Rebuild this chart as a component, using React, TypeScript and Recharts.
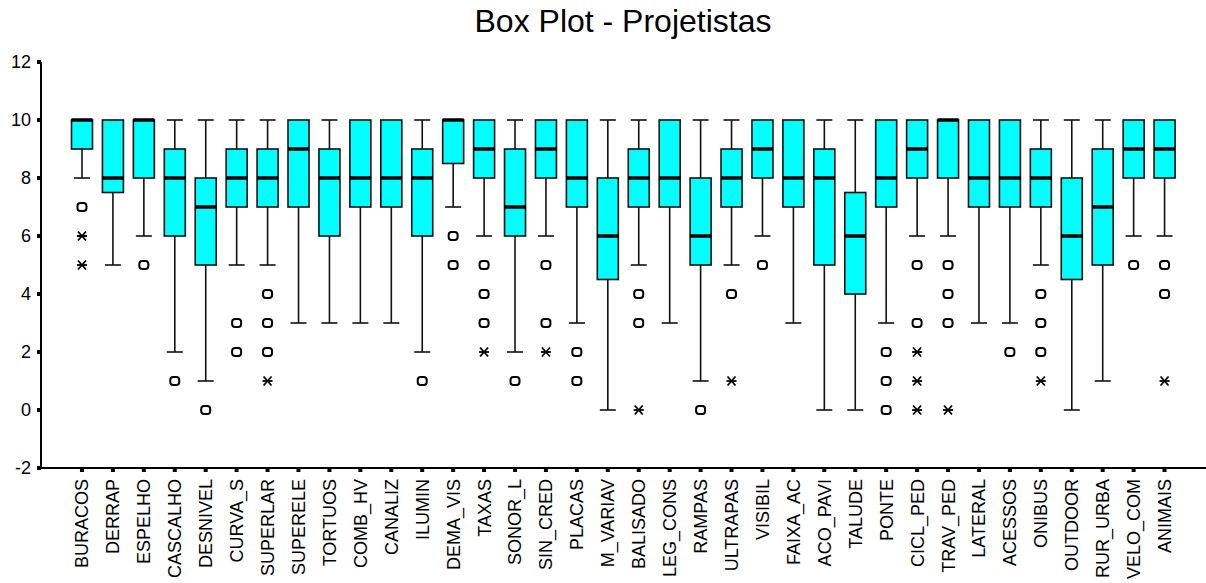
import React from 'react';
import { ComposedChart, Bar, Line, XAxis, YAxis } from 'recharts';

const categories = [
  'BURACOS', 'DERRAP', 'ESPELHO', 'CASCALHO', 'DESNIVEL', 'CURVA_S', 'SUPERLAR', 'SUPERELE',
  'TORTUOS', 'COMB_HV', 'CANALIZ', 'ILUMIN', 'DEMA_VIS', 'TAXAS', 'SONOR_L', 'SIN_CRED',
  'PLACAS', 'M_VARIAV', 'BALISADO', 'LEG_CONS', 'RAMPAS', 'ULTRAPAS', 'VISIBIL', 'FAIXA_AC',
  'ACO_PAVI', 'TALUDE', 'PONTE', 'CICL_PED', 'TRAV_PED', 'LATERAL', 'ACESSOS', 'ONIBUS',
  'OUTDOOR', 'RUR_URBA', 'VELO_COM', 'ANIMAIS',
];

const whiskerLow = [8, 5, 6, 2, 1, 5, 5, 3, 3, 3, 3, 2, 7, 6, 2, 6, 3, 0, 5, 3, 1, 5, 6, 3, 0, 0, 3, 6, 6, 3, 3, 5, 0, 1, 6, 6];
const quartile1 = [9, 7.5, 8, 6, 5, 7, 7, 7, 6, 7, 7, 6, 8.5, 8, 6, 8, 7, 4.5, 7, 7, 5, 7, 8, 7, 5, 4, 7, 8, 8, 7, 7, 7, 4.5, 5, 8, 8];
const medians = [10, 8, 10, 8, 7, 8, 8, 9, 8, 8, 8, 8, 10, 9, 7, 9, 8, 6, 8, 8, 6, 8, 9, 8, 8, 6, 8, 9, 10, 8, 8, 8, 6, 7, 9, 9];
const quartile3 = [10, 10, 10, 9, 8, 9, 9, 10, 9, 10, 10, 9, 10, 10, 9, 10, 10, 8, 9, 10, 8, 9, 10, 10, 9, 7.5, 10, 10, 10, 10, 10, 9, 8, 9, 10, 10];
const whiskerHigh = [10, 10, 10, 10, 10, 10, 10, 10, 10, 10, 10, 10, 10, 10, 10, 10, 10, 10, 10, 10, 10, 10, 10, 10, 10, 10, 10, 10, 10, 10, 10, 10, 10, 10, 10, 10];

const outlierCircles: number[][] = [
  [7], [], [5], [1], [0], [3, 2], [4, 3, 2], [], [], [], [], [1], [6, 5], [5, 4, 3], [1], [5, 3],
  [2, 1], [], [4, 3], [], [0], [4], [5], [], [], [], [2, 1, 0], [5, 3], [5, 4, 3], [], [2], [4, 3, 2],
  [], [], [5], [5, 4],
];
const extremeStars: number[][] = [
  [6, 5], [], [], [], [], [], [1], [], [], [], [], [], [], [2], [], [2],
  [], [], [0], [], [], [1], [], [], [], [], [], [2, 1, 0], [0], [], [], [1],
  [], [], [], [1],
];

const yTicks = [-2, 0, 2, 4, 6, 8, 10, 12];
const title = 'Box Plot - Projetistas';

const FONT = '"Liberation Sans", Arial, Helvetica, sans-serif';
const CYAN = '#00FFFF';
const INK = '#000000';

const data = categories.map((name, i) => {
  const row: Record<string, any> = {
    name,
    base: whiskerLow[i],
    lowWhisker: quartile1[i] - whiskerLow[i],
    box: quartile3[i] - quartile1[i],
    highWhisker: whiskerHigh[i] - quartile3[i],
    med: medians[i],
  };
  for (let k = 0; k < 3; k++) {
    row['c' + k] = outlierCircles[i][k] ?? null;
    row['s' + k] = extremeStars[i][k] ?? null;
  }
  return row;
});

const BoxShape = (p: any) => {
  const { x, y, width, height } = p;
  if (height == null || isNaN(height)) return null;
  return <rect x={x} y={y} width={width} height={height} fill={CYAN} stroke="#111" strokeWidth={1.6} />;
};

const LowWhiskerShape = (p: any) => {
  const { x, y, width, height } = p;
  if (height == null || isNaN(height)) return null;
  const cx = x + width / 2;
  return (
    <g>
      <line x1={cx} x2={cx} y1={y} y2={y + height} stroke="#111" strokeWidth={1.6} />
      <line x1={cx - 8} x2={cx + 8} y1={y + height} y2={y + height} stroke="#111" strokeWidth={1.6} />
    </g>
  );
};

const HighWhiskerShape = (p: any) => {
  const { x, y, width, height } = p;
  if (height == null || isNaN(height) || height < 0.5) return null;
  const cx = x + width / 2;
  return (
    <g>
      <line x1={cx} x2={cx} y1={y} y2={y + height} stroke="#111" strokeWidth={1.6} />
      <line x1={cx - 8} x2={cx + 8} y1={y} y2={y} stroke="#111" strokeWidth={1.6} />
    </g>
  );
};

const MedianDot = (p: any) => {
  const { cx, cy, value } = p;
  if (value == null || cy == null || isNaN(cy)) return null;
  return <line key={p.key} x1={cx - 10.5} x2={cx + 10.5} y1={cy} y2={cy} stroke={INK} strokeWidth={3.5} />;
};

const CircleDot = (p: any) => {
  const { cx, cy, value } = p;
  if (value == null || cy == null || isNaN(cy)) return null;
  return <rect key={p.key} x={cx - 4.5} y={cy - 4} width={9} height={8} rx={3} fill="none" stroke={INK} strokeWidth={2} />;
};

const StarDot = (p: any) => {
  const { cx, cy, value } = p;
  if (value == null || cy == null || isNaN(cy)) return null;
  return (
    <g key={p.key}>
      <line x1={cx - 5} x2={cx + 5} y1={cy} y2={cy} stroke={INK} strokeWidth={1.8} />
      <line x1={cx - 4} x2={cx + 4} y1={cy - 4.5} y2={cy + 4.5} stroke={INK} strokeWidth={1.8} />
      <line x1={cx - 4} x2={cx + 4} y1={cy + 4.5} y2={cy - 4.5} stroke={INK} strokeWidth={1.8} />
    </g>
  );
};

const XTick = (p: any) => {
  const { x, y, payload } = p;
  return (
    <g>
      <rect x={x - 2} y={y} width={4} height={4} fill={INK} />
      <text
        x={x + 6.5}
        y={y + 11}
        transform={`rotate(-90 ${x + 6.5} ${y + 11})`}
        textAnchor="end"
        fontSize={18}
        fontFamily={FONT}
        fill={INK}
      >
        {payload.value}
      </text>
    </g>
  );
};

const YTick = (p: any) => {
  const { x, y, payload } = p;
  return (
    <g>
      <rect x={x - 4} y={y - 2} width={4} height={4} fill={INK} />
      <text x={x - 10} y={y} dy="0.35em" textAnchor="end" fontSize={18} fontFamily={FONT} fill={INK}>
        {payload.value}
      </text>
    </g>
  );
};

export default function App() {
  return (
    <div style={{ position: 'absolute', left: 0, top: 0, width: 1206, height: 583, background: '#fff' }}>
      <svg width={1206} height={60} style={{ position: 'absolute', left: 0, top: 0 }}>
        <text x={623} y={32} textAnchor="middle" fontSize={32} fontFamily={FONT} fill={INK}>
          {title}
        </text>
      </svg>
      <div style={{ position: 'absolute', left: 0, top: 0 }}>
        <ComposedChart width={1206} height={583} data={data} margin={{ top: 62, right: 0, bottom: 0, left: 0 }}>
          <XAxis
            dataKey="name"
            type="category"
            interval={0}
            height={115}
            padding={{ left: 25.5, right: 26 }}
            tickLine={false}
            tickSize={0}
            tickMargin={0}
            axisLine={{ stroke: INK, strokeWidth: 2 }}
            tick={<XTick />}
          />
          <YAxis
            type="number"
            domain={[-2, 12]}
            ticks={yTicks}
            interval={0}
            width={41}
            tickLine={false}
            tickSize={0}
            tickMargin={0}
            axisLine={{ stroke: INK, strokeWidth: 2 }}
            tick={<YTick />}
            allowDataOverflow
          />
          <Bar dataKey="base" stackId="bp" barSize={21} fill="none" shape={() => null} isAnimationActive={false} />
          <Bar dataKey="lowWhisker" stackId="bp" barSize={21} shape={LowWhiskerShape} isAnimationActive={false} />
          <Bar dataKey="box" stackId="bp" barSize={21} shape={BoxShape} isAnimationActive={false} />
          <Bar dataKey="highWhisker" stackId="bp" barSize={21} shape={HighWhiskerShape} isAnimationActive={false} />
          <Line dataKey="med" stroke="none" dot={MedianDot} activeDot={false} isAnimationActive={false} legendType="none" />
          {[0, 1, 2].map((k) => (
            <Line key={'c' + k} dataKey={'c' + k} stroke="none" dot={CircleDot} activeDot={false} isAnimationActive={false} legendType="none" />
          ))}
          {[0, 1, 2].map((k) => (
            <Line key={'s' + k} dataKey={'s' + k} stroke="none" dot={StarDot} activeDot={false} isAnimationActive={false} legendType="none" />
          ))}
        </ComposedChart>
      </div>
    </div>
  );
}
